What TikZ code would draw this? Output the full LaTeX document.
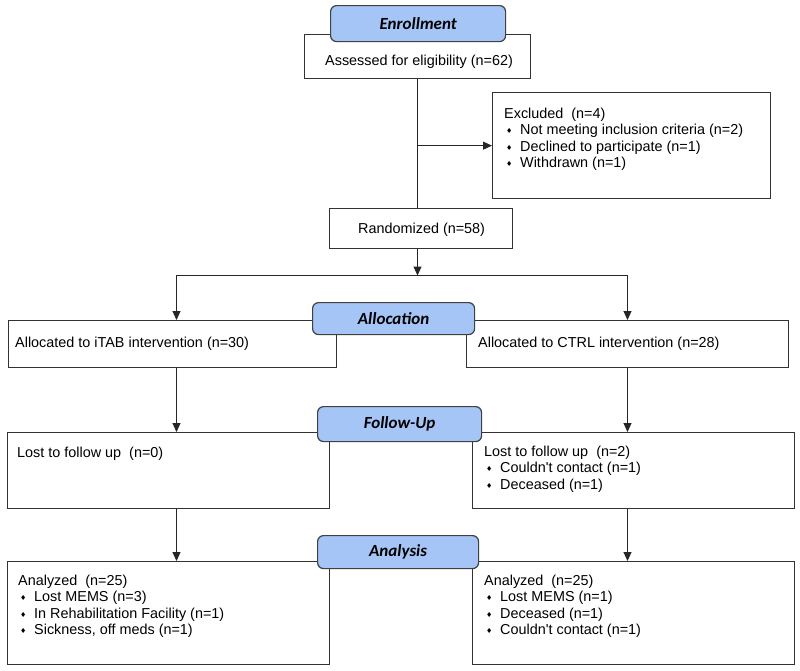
\documentclass[tikz,border=0pt]{standalone}
\usepackage{fontspec}
\setmainfont{Liberation Sans}
\newfontfamily\headfont{Carlito}
\newfontfamily\symfont{DejaVu Sans}
\usetikzlibrary{arrows.meta}
\definecolor{headblue}{RGB}{166,197,247}
\newcommand{\dmd}{\raisebox{1pt}{\fontsize{7}{7}\selectfont\symfont ♦}}
\newcommand{\bul}{\hspace*{2pt}\makebox[14pt][l]{\dmd}}
\newcommand{\lines}[1]{\begin{tabular}[t]{@{}l@{}}#1\end{tabular}}
\begin{document}
\begin{tikzpicture}[x=1pt,y=-1pt]
    \tikzstyle{box}=[draw=black!80, line width=1.3pt, anchor=north west, inner sep=0pt]
    \tikzstyle{head}=[draw=black!75, fill=headblue, line width=1.2pt, rounded corners=6pt, anchor=north west, inner sep=0pt, font=\headfont\fontsize{17}{17}\selectfont\bfseries\itshape]
    \tikzstyle{txt}=[anchor=base west, inner sep=0pt, font=\fontsize{14.4}{16.5}\selectfont]
    \tikzstyle{arr}=[line width=1pt, black!85, -{Triangle[length=9pt,width=8pt]}]
    \useasboundingbox (0,0) rectangle (800,670);
    % boxes
    \node[box, minimum width=226pt, minimum height=44pt] (assess) at (304,34) {};
    \node[box, minimum width=278pt, minimum height=106pt] (excl) at (492,92) {};
    \node[box, minimum width=183pt, minimum height=40pt] (random) at (329,208) {};
    \node[box, minimum width=328pt, minimum height=47pt] (itab) at (8,320) {};
    \node[box, minimum width=322pt, minimum height=47pt] (ctrl) at (466,320) {};
    \node[box, minimum width=322pt, minimum height=76pt] (lostL) at (7,432) {};
    \node[box, minimum width=322pt, minimum height=76pt] (lostR) at (472,432) {};
    \node[box, minimum width=322pt, minimum height=103pt] (anaL) at (7,561) {};
    \node[box, minimum width=322pt, minimum height=103pt] (anaR) at (472,561) {};
    % texts
    \node[txt] (tassess) at (325,65) {Assessed for eligibility (n=62)};
    \node[txt] (texcl) at (504,118) {\lines{Excluded\ \ (n=4)\\
        \bul Not meeting inclusion criteria (n=2)\\
        \bul Declined to participate (n=1)\\
        \bul Withdrawn (n=1)}};
    \node[txt] (trandom) at (358,233) {Randomized (n=58)};
    \node[txt] (titab) at (15,347) {Allocated to iTAB intervention (n=30)};
    \node[txt] (tctrl) at (478,347) {Allocated to CTRL intervention (n=28)};
    \node[txt] (tlostL) at (17,457) {Lost to follow up\ \ (n=0)};
    \node[txt] (tlostR) at (484,456) {\lines{Lost to follow up\ \ (n=2)\\
        \bul Couldn\textquotesingle t contact (n=1)\\
        \bul Deceased (n=1)}};
    \node[txt] (tanaL) at (18,585) {\lines{Analyzed\ \ (n=25)\\
        \bul Lost MEMS (n=3)\\
        \bul In Rehabilitation Facility (n=1)\\
        \bul Sickness, off meds (n=1)}};
    \node[txt] (tanaR) at (484,585) {\lines{Analyzed\ \ (n=25)\\
        \bul Lost MEMS (n=1)\\
        \bul Deceased (n=1)\\
        \bul Couldn\textquotesingle t contact (n=1)}};
    % headers
    \node[head, minimum width=175pt, minimum height=36pt] (enroll) at (330,5) {Enrollment};
    \node[head, minimum width=162pt, minimum height=32pt] (alloc) at (312,302) {Allocation};
    \node[head, minimum width=164pt, minimum height=35pt] (follow) at (317,406) {Follow-Up};
    \node[head, minimum width=161pt, minimum height=33pt] (analysis) at (317,535) {Analysis};
    % connectors
    \coordinate (lcol) at (176.5,0);
    \coordinate (rcol) at (627.5,0);
    \coordinate (split) at (417.5,275.5);
    \draw[line width=1pt, black!85] (assess.south) -- (assess.south |- random.north);
    \draw[arr] (assess.south |- excl.west) -- (excl.west);
    \draw[arr] (split |- random.south) -- (split);
    \draw[arr] (split) -| (lcol |- itab.north);
    \draw[arr] (split) -| (rcol |- ctrl.north);
    \draw[arr] (lcol |- itab.south) -- (lcol |- lostL.north);
    \draw[arr] (rcol |- ctrl.south) -- (rcol |- lostR.north);
    \draw[arr] (lcol |- lostL.south) -- (lcol |- anaL.north);
    \draw[arr] (rcol |- lostR.south) -- (rcol |- anaR.north);
\end{tikzpicture}
\end{document}
